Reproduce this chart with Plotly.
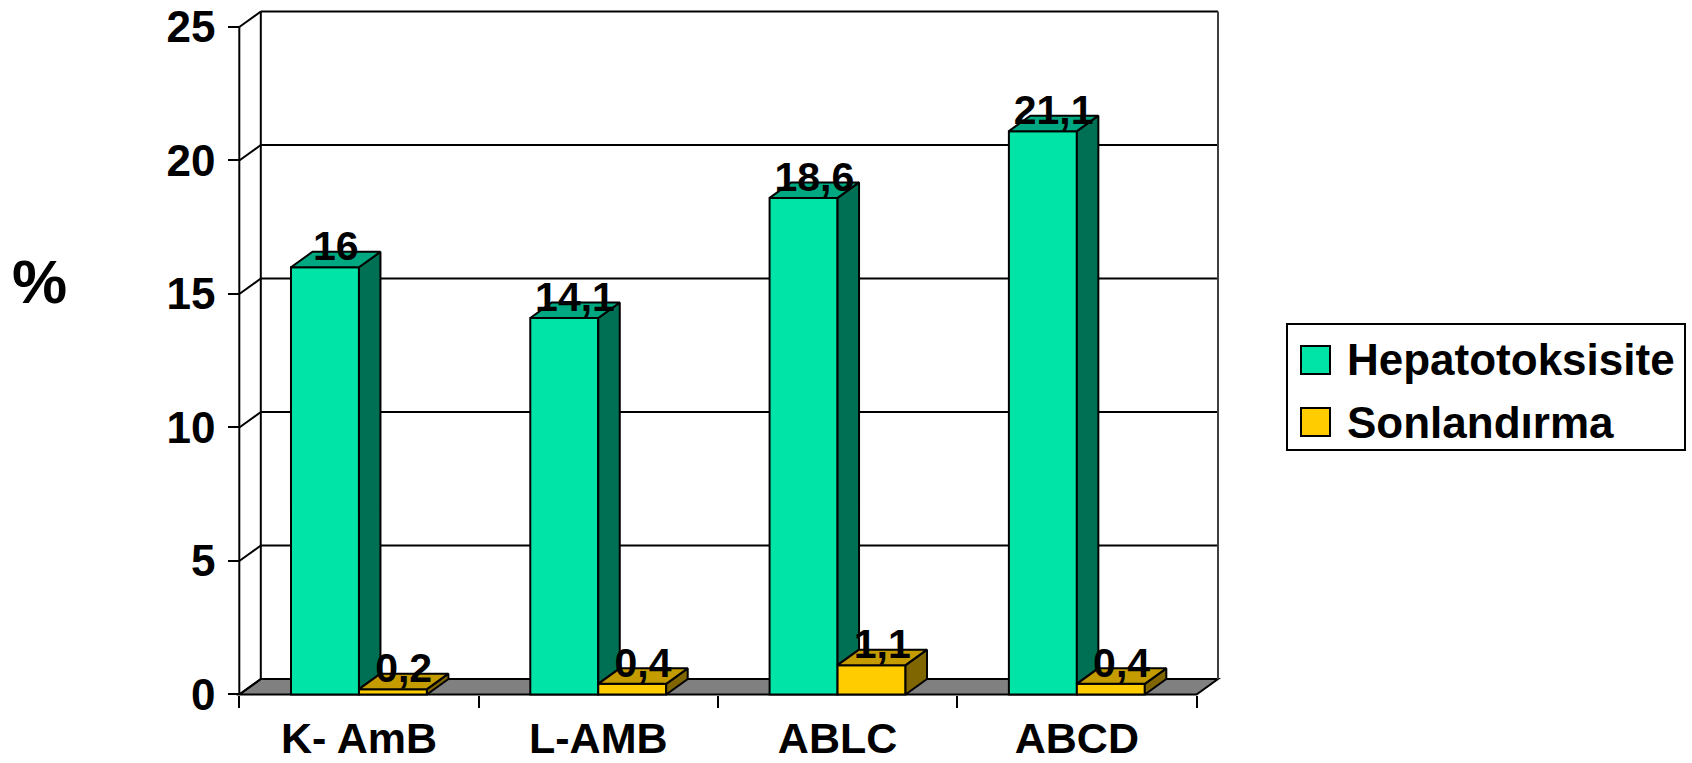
import plotly.graph_objects as go

# ---------------- data ----------------
categories = ["K- AmB", "L-AMB", "ABLC", "ABCD"]
series_names = ["Hepatotoksisite", "Sonlandırma"]
hepato = [16, 14.1, 18.6, 21.1]
sonl = [0.2, 0.4, 1.1, 0.4]
y_ticks = [0, 5, 10, 15, 20, 25]
y_title = "%"

# ---------------- geometry / style ----------------
W, H = 1692, 763
PX_CAT = 239.3          # pixels per category
PX_VAL = 26.7           # pixels per value unit
X0_PX = 239.3           # pixel x of front-left corner
Y0_PX = 694.5           # pixel y of value 0 (front)
DEPTH = (21.5, 15.5)    # 3-D depth offset in pixels
BAR_W = 0.284           # bar width in category units

FONT = "Liberation Sans, Arial, Helvetica, sans-serif"
C_G_FRONT, C_G_TOP, C_G_SIDE = "#00E4A8", "#00A882", "#007054"
C_Y_FRONT, C_Y_TOP, C_Y_SIDE = "#FFCC00", "#C49C00", "#806600"
C_FLOOR = "#808080"

dx = DEPTH[0] / PX_CAT
dy = DEPTH[1] / PX_VAL
n = len(categories)
xr = [-0.52, n - 0.5 + dx + 0.02]
yr = [-0.15, y_ticks[-1] + dy + 0.12]


def px_x(v):
    return X0_PX + (v + 0.5) * PX_CAT


def px_y(v):
    return Y0_PX - v * PX_VAL


xdom = [px_x(xr[0]) / W, px_x(xr[1]) / W]
ydom = [1 - px_y(yr[0]) / H, 1 - px_y(yr[1]) / H]


def fmt(v):
    return f"{v:g}".replace(".", ",")


fig = go.Figure()

# front faces (bars)
fig.add_trace(go.Bar(x=list(range(n)), y=hepato, width=BAR_W, offset=-BAR_W,
                     marker=dict(color=C_G_FRONT, line=dict(color="black", width=2)),
                     name=series_names[0], showlegend=False, hoverinfo="skip"))
fig.add_trace(go.Bar(x=list(range(n)), y=sonl, width=BAR_W, offset=0,
                     marker=dict(color=C_Y_FRONT, line=dict(color="black", width=2)),
                     name=series_names[1], showlegend=False, hoverinfo="skip"))


def poly_trace(xs, ys, color):
    return go.Scatter(x=xs, y=ys, mode="lines", fill="toself", fillcolor=color,
                      line=dict(color="black", width=2), hoverinfo="skip",
                      showlegend=False)


gtx, gty, gsx, gsy, ytx, yty, ysx, ysy = [], [], [], [], [], [], [], []
for i in range(n):
    vg, vy = hepato[i], sonl[i]
    # green top
    gtx += [i - BAR_W, i, i + dx, i - BAR_W + dx, i - BAR_W, None]
    gty += [vg, vg, vg + dy, vg + dy, vg, None]
    # green side (visible part above yellow bar)
    gsx += [i, i + dx, i + dx, i, i, None]
    gsy += [vy, vy + dy, vg + dy, vg, vy, None]
    # yellow top
    ytx += [i, i + BAR_W, i + BAR_W + dx, i + dx, i, None]
    yty += [vy, vy, vy + dy, vy + dy, vy, None]
    # yellow side
    ysx += [i + BAR_W, i + BAR_W + dx, i + BAR_W + dx, i + BAR_W, i + BAR_W, None]
    ysy += [0, dy, vy + dy, vy, 0, None]

fig.add_trace(poly_trace(gsx, gsy, C_G_SIDE))
fig.add_trace(poly_trace(gtx, gty, C_G_TOP))
fig.add_trace(poly_trace(ysx, ysy, C_Y_SIDE))
fig.add_trace(poly_trace(ytx, yty, C_Y_TOP))

# data labels
LBL = 0.65
fig.add_trace(go.Scatter(
    x=[i - BAR_W / 2 + dx / 2 for i in range(n)] + [i + BAR_W / 2 + dx / 2 for i in range(n)],
    y=[v + LBL for v in hepato] + [v + LBL for v in sonl],
    text=[fmt(v) for v in hepato] + [fmt(v) for v in sonl],
    mode="text", textposition="middle center",
    textfont=dict(family=FONT, size=41, color="black", weight="bold"),
    cliponaxis=False, hoverinfo="skip", showlegend=False))

# ---------------- walls, floor, grid (shapes below traces) ----------------
shapes = []
xl, xrgt = -0.5, n - 0.5
top = y_ticks[-1]
LW = 2
# floor
shapes.append(dict(type="path", xref="x", yref="y", layer="below",
                   path=f"M{xl},0 L{xrgt},0 L{xrgt+dx},{dy} L{xl+dx},{dy} Z",
                   fillcolor=C_FLOOR, line=dict(color="black", width=LW)))
for v in y_ticks:
    # back wall gridlines
    shapes.append(dict(type="line", xref="x", yref="y", layer="below",
                       x0=xl + dx, x1=xrgt + dx, y0=v + dy, y1=v + dy,
                       line=dict(color="black", width=LW)))
    # side wall diagonals
    shapes.append(dict(type="line", xref="x", yref="y", layer="below",
                       x0=xl, x1=xl + dx, y0=v, y1=v + dy,
                       line=dict(color="black", width=LW)))
# wall vertical edges
shapes.append(dict(type="line", xref="x", yref="y", layer="below",
                   x0=xl + dx, x1=xl + dx, y0=dy, y1=top + dy,
                   line=dict(color="black", width=LW)))
shapes.append(dict(type="line", xref="x", yref="y", layer="below",
                   x0=xrgt + dx, x1=xrgt + dx, y0=dy, y1=top + dy,
                   line=dict(color="#404040", width=LW)))
# front value axis
shapes.append(dict(type="line", xref="x", yref="y", layer="below",
                   x0=xl, x1=xl, y0=0, y1=top,
                   line=dict(color="black", width=LW)))

# ---------------- custom legend ----------------
LEG_BOX = (1287, 324, 1685, 450)
shapes.append(dict(type="rect", xref="paper", yref="paper",
                   x0=LEG_BOX[0] / W, x1=LEG_BOX[2] / W,
                   y0=1 - LEG_BOX[1] / H, y1=1 - LEG_BOX[3] / H,
                   line=dict(color="black", width=2), fillcolor="white"))
annotations = []
for k, (name, col) in enumerate(zip(series_names, [C_G_FRONT, C_Y_FRONT])):
    cy = 360 + k * 62
    shapes.append(dict(type="rect", xref="paper", yref="paper",
                       x0=1301 / W, x1=1330 / W,
                       y0=1 - (cy - 14) / H, y1=1 - (cy + 14) / H,
                       fillcolor=col, line=dict(color="black", width=2)))
    annotations.append(dict(xref="paper", yref="paper", x=1345 / W, y=1 - cy / H,
                            text=name, showarrow=False, xanchor="left", yanchor="middle",
                            font=dict(family=FONT, size=44, color="black", weight="bold")))

# y title
annotations.append(dict(xref="paper", yref="paper", x=39 / W, y=1 - 281 / H,
                        text=y_title, showarrow=False, xanchor="center", yanchor="middle",
                        font=dict(family=FONT, size=62, color="black", weight="bold")))

fig.update_layout(
    width=W, height=H, margin=dict(l=0, r=0, t=0, b=0, autoexpand=False),
    paper_bgcolor="white", plot_bgcolor="white",
    barmode="overlay", showlegend=False,
    shapes=shapes, annotations=annotations,
    xaxis=dict(domain=xdom, range=xr, anchor="free", position=1 - Y0_PX / H,
               automargin=False,
               tickvals=list(range(n)), ticktext=categories, ticks="",
               ticklabelstandoff=14,
               minor=dict(tickvals=[i - 0.5 for i in range(n + 1)], ticks="outside",
                          ticklen=12, tickwidth=2, tickcolor="black", showgrid=False),
               showgrid=False, zeroline=False, showline=False,
               tickfont=dict(family=FONT, size=43, color="black", weight="bold")),
    yaxis=dict(domain=ydom, range=yr, anchor="free", position=px_x(-0.5) / W,
               automargin=False,
               tickvals=y_ticks, ticks="outside", ticklen=11, tickwidth=2,
               tickcolor="black", ticklabelstandoff=4,
               showgrid=False, zeroline=False, showline=False,
               tickfont=dict(family=FONT, size=44, color="black", weight="bold")),
)

fig.write_html("out.html", config={"displayModeBar": False},
               post_script="document.body.style.margin='0';document.body.style.overflow='hidden';")
